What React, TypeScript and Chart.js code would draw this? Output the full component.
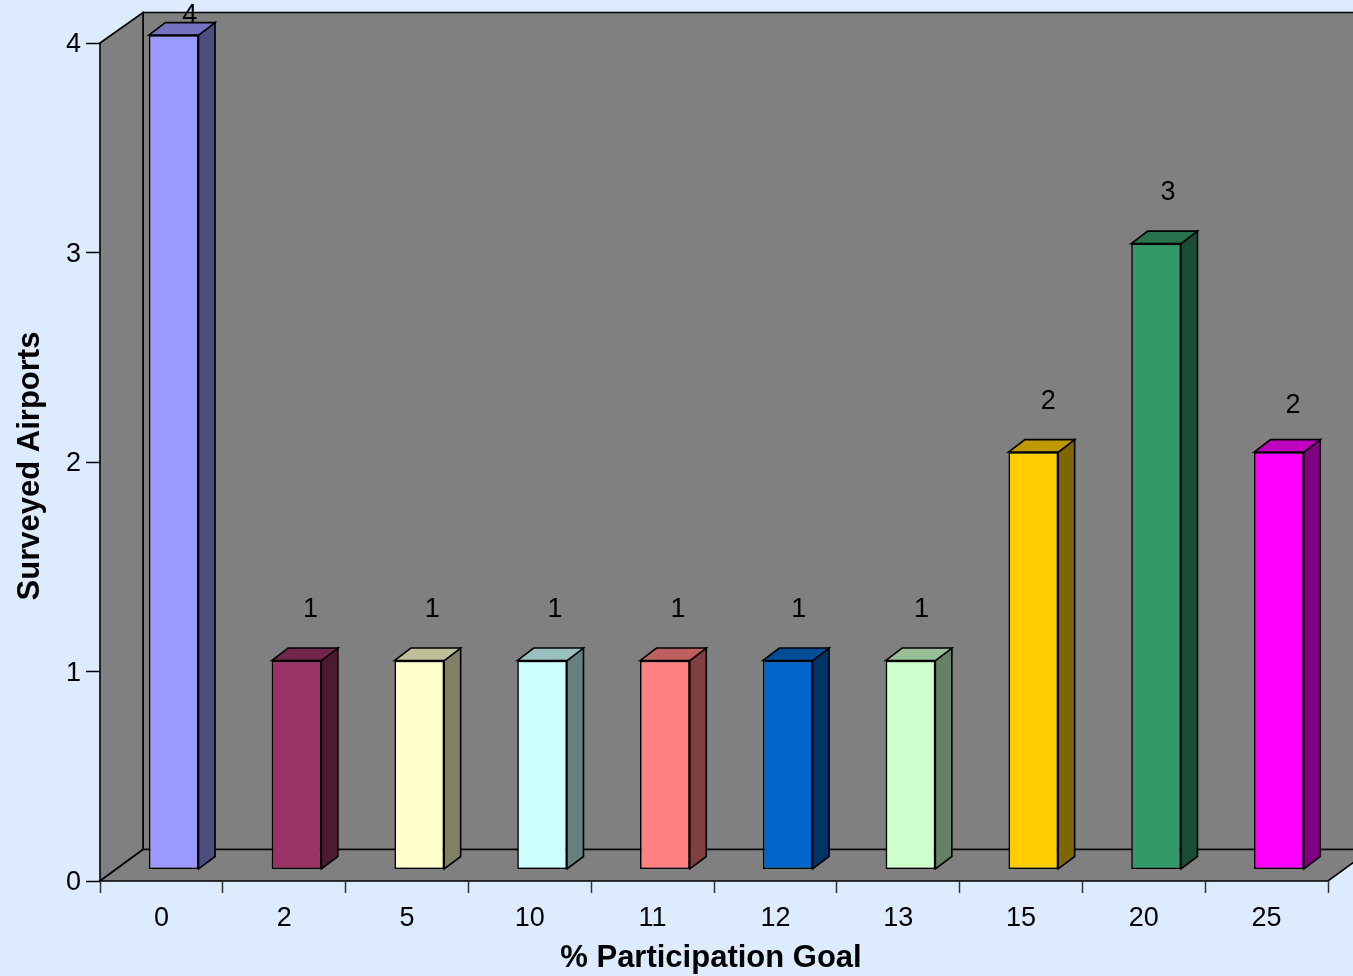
import React, { useEffect, useRef } from "react";
import { Chart, registerables } from "chart.js";

Chart.register(...registerables);

const categories = ["0", "2", "5", "10", "11", "12", "13", "15", "20", "25"];
const surveyedAirports = [4, 1, 1, 1, 1, 1, 1, 2, 3, 2];
const barColors = ["#9999FF", "#993366", "#FFFFCC", "#CCFFFF", "#FF8080", "#0066CC", "#CCFFCC", "#FFCC00", "#339966", "#FF00FF"];
const xTitle = "% Participation Goal";
const yTitle = "Surveyed Airports";

const PAGE_BG = "#DDEBFF";
const WALL = "#808080";
const FONT = '"Liberation Sans", Arial, sans-serif';
const WALL_DX = 43;
const WALL_DY_TOP = 30.5;
const WALL_DY = 31.5;
const BAR_SHIFT_X = 12.3;
const BAR_SHIFT_Y = 12;
const BAR_DX = 16.5;
const BAR_DY = 12.5;
const labelNudgeX = [3, 1, 0, 0, 0, -2, -2, 2, -1, 1];
const labelNudgeY = [0, 0, 0, 0, 0, 0, 0, 0, 0, 4];

function shade(hex: string, k: number) {
  const n = parseInt(hex.slice(1), 16);
  const c = [(n >> 16) & 255, (n >> 8) & 255, n & 255].map((v) => Math.round(v * k));
  return `rgb(${c[0]},${c[1]},${c[2]})`;
}

function poly(ctx: CanvasRenderingContext2D, pts: number[][], fill: string, lw = 1.6) {
  ctx.beginPath();
  pts.forEach((p, i) => (i ? ctx.lineTo(p[0], p[1]) : ctx.moveTo(p[0], p[1])));
  ctx.closePath();
  ctx.fillStyle = fill;
  ctx.fill();
  ctx.lineWidth = lw;
  ctx.strokeStyle = "#000";
  ctx.lineJoin = "miter";
  ctx.stroke();
}

function nudgeTitle(scale: any, dx: number, dy: number) {
  const original = scale.drawTitle;
  scale.drawTitle = function () {
    scale.ctx.save();
    scale.ctx.translate(dx, dy);
    original.call(scale);
    scale.ctx.restore();
  };
}

const scene3d = {
  id: "scene3d",
  afterLayout(chart: any) {
    nudgeTitle(chart.scales.x, -3, 2);
    nudgeTitle(chart.scales.y, 0, 4);
  },
  beforeDraw(chart: any) {
    const { ctx, chartArea: a, width, height } = chart;
    ctx.save();
    ctx.fillStyle = PAGE_BG;
    ctx.fillRect(0, 0, width, height);
    const farX = a.right + WALL_DX;
    const backX = a.left + WALL_DX;
    const backTop = a.top - WALL_DY_TOP;
    const backBottom = a.bottom - WALL_DY;
    poly(ctx, [[backX, backTop], [farX, backTop], [farX, backBottom], [backX, backBottom]], WALL);
    poly(ctx, [[a.left, a.top], [backX, backTop], [backX, backBottom], [a.left, a.bottom]], WALL);
    poly(ctx, [[a.left, a.bottom], [backX, backBottom], [farX, backBottom], [a.right, a.bottom]], WALL);
    ctx.restore();
  },
  beforeDatasetDraw(chart: any, args: any) {
    const { ctx } = chart;
    ctx.save();
    ctx.translate(BAR_SHIFT_X, -BAR_SHIFT_Y);
    args.meta.data.forEach((bar: any, i: number) => {
      const { x, y, base, width } = bar.getProps(["x", "y", "base", "width"], true);
      const l = x - width / 2;
      const r = x + width / 2;
      const c = barColors[i];
      poly(ctx, [[r, y], [r + BAR_DX, y - BAR_DY], [r + BAR_DX, base - BAR_DY], [r, base]], shade(c, 0.5));
      poly(ctx, [[l, y], [l + BAR_DX, y - BAR_DY], [r + BAR_DX, y - BAR_DY], [r, y]], shade(c, 0.75));
    });
  },
  afterDatasetDraw(chart: any) {
    chart.ctx.restore();
  },
  afterDatasetsDraw(chart: any) {
    const { ctx } = chart;
    const meta = chart.getDatasetMeta(0);
    ctx.save();
    ctx.font = `27px ${FONT}`;
    ctx.fillStyle = "#000";
    ctx.textAlign = "center";
    ctx.textBaseline = "middle";
    meta.data.forEach((bar: any, i: number) => {
      const { x, y } = bar.getProps(["x", "y"], true);
      ctx.fillText(
        String(surveyedAirports[i]),
        x + BAR_SHIFT_X + 13 + labelNudgeX[i],
        Math.max(16, y - BAR_SHIFT_Y - 51 + labelNudgeY[i]),
      );
    });
    ctx.restore();
  },
};

export default function App() {
  const ref = useRef<HTMLCanvasElement>(null);
  useEffect(() => {
    document.body.style.margin = "0";
    document.body.style.background = PAGE_BG;
    const chart = new Chart(ref.current as HTMLCanvasElement, {
      type: "bar",
      data: {
        labels: categories,
        datasets: [
          {
            data: surveyedAirports,
            backgroundColor: barColors,
            borderColor: "#000",
            borderWidth: 1.6,
            borderSkipped: false,
            barPercentage: 0.405,
            categoryPercentage: 1,
            yAxisID: "barY",
            clip: false,
          } as any,
        ],
      },
      options: {
        animation: false,
        responsive: false,
        devicePixelRatio: 1,
        layout: { padding: { top: 43, right: 25, left: 0, bottom: 0 } },
        plugins: { legend: { display: false }, tooltip: { enabled: false } },
        scales: {
          x: {
            afterFit: (s: any) => { s.height = 95; },
            grid: { drawOnChartArea: false, tickLength: 12, tickColor: "#333", tickWidth: 1.5, drawTicks: true },
            border: { display: false },
            ticks: { color: "#000", font: { family: FONT, size: 27 }, padding: 9, maxRotation: 0 },
            title: { display: true, text: xTitle, color: "#000", font: { family: FONT, size: 31, weight: "bold" }, padding: { top: 0, bottom: 1 } },
          },
          y: {
            min: 0,
            max: 4,
            afterFit: (s: any) => { s.width = 100; },
            grid: { drawOnChartArea: false, tickLength: 14, tickColor: "#000", tickWidth: 1.5 },
            border: { display: false },
            ticks: { color: "#000", stepSize: 1, font: { family: FONT, size: 27 }, padding: 5, labelOffset: 2 },
            title: { display: true, text: yTitle, color: "#000", font: { family: FONT, size: 31, weight: "bold" }, padding: { top: 12, bottom: 0 } },
          },
          barY: { display: false, min: 0, max: 4.02 },
        },
      } as any,
      plugins: [scene3d],
    });
    return () => chart.destroy();
  }, []);
  return <canvas ref={ref} width={1353} height={976} style={{ display: "block", position: "absolute", left: 0, top: 0 }} />;
}
